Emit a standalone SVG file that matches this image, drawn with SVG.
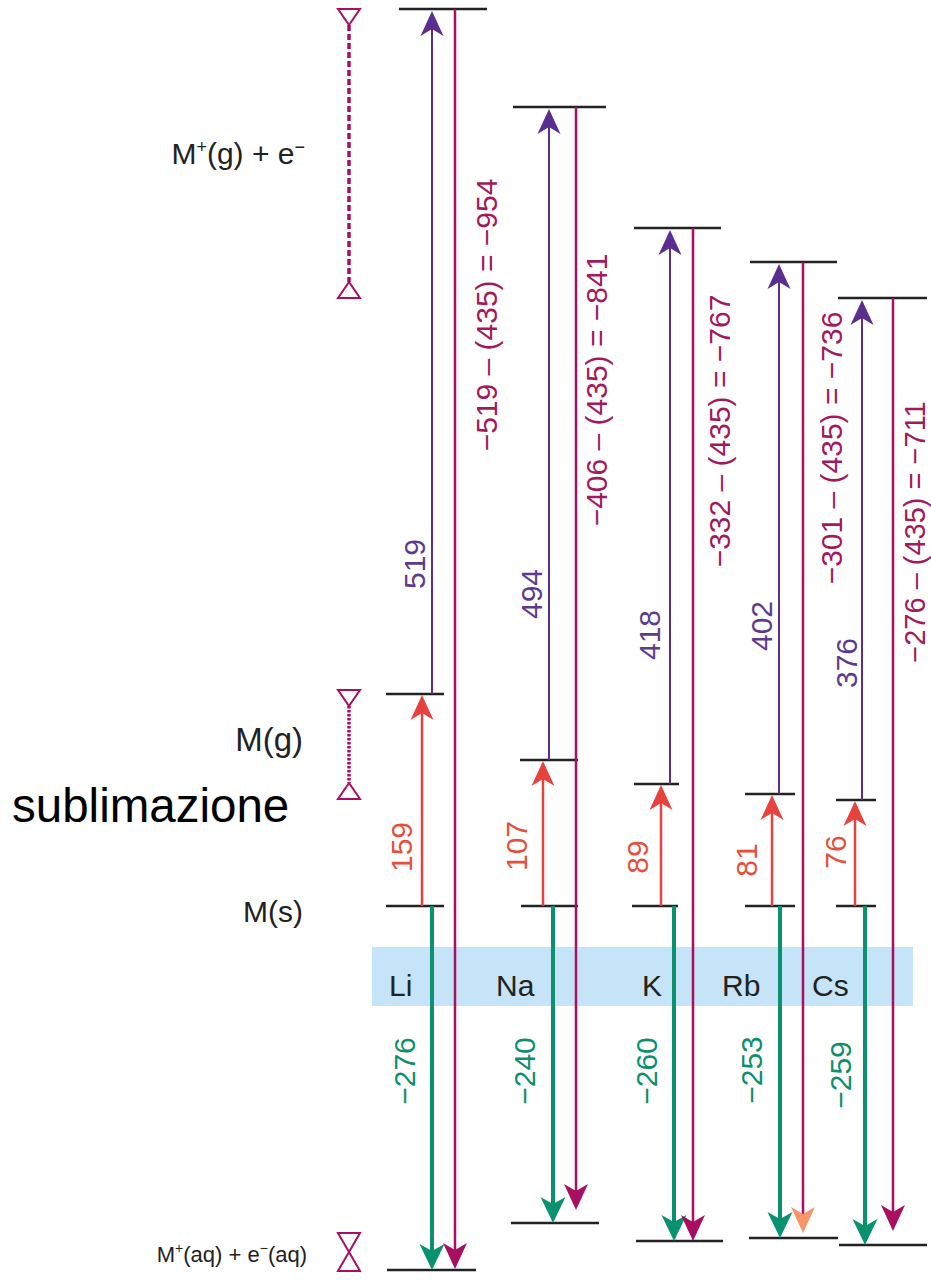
<svg xmlns="http://www.w3.org/2000/svg" width="931" height="1284" viewBox="0 0 931 1284">
<defs>
<style>
text{font-family:"Liberation Sans",Arial,sans-serif;}
.lvl{stroke:#222;stroke-width:2.5;fill:none;}
.pur{stroke:#5b2d8e;stroke-width:2;fill:none;}
.mag{stroke:#a80f62;stroke-width:2.5;fill:none;}
.red{stroke:#e8423f;stroke-width:2.5;fill:none;}
.grn{stroke:#0a9170;stroke-width:4;fill:none;}
.tri{stroke:#a80f62;stroke-width:2;fill:#fff;}
.t-pur{fill:#5e3a8f;font-size:30px;}
.t-mag{fill:#a3195b;font-size:30px;}
.t-red{fill:#e4503c;font-size:30px;}
.t-grn{fill:#0d8f6c;font-size:30px;}
.t-blk{fill:#222;font-size:30px;}
</style>
<marker id="ah-pur" markerUnits="userSpaceOnUse" markerWidth="26" markerHeight="26" viewBox="0 -13 26 26" refX="20" refY="0" orient="auto"><path d="M25,0 L0,-11.5 L7,0 L0,11.5 Z" fill="#5b2d8e"/></marker>
<marker id="ah-red" markerUnits="userSpaceOnUse" markerWidth="26" markerHeight="26" viewBox="0 -13 26 26" refX="20" refY="0" orient="auto"><path d="M25,0 L0,-11.5 L7,0 L0,11.5 Z" fill="#e8423f"/></marker>
<marker id="ah-grn" markerUnits="userSpaceOnUse" markerWidth="28" markerHeight="28" viewBox="0 -14 28 28" refX="20" refY="0" orient="auto"><path d="M26,0 L0,-12.5 L7,0 L0,12.5 Z" fill="#0a9170"/></marker>
<marker id="ah-mag" markerUnits="userSpaceOnUse" markerWidth="28" markerHeight="28" viewBox="0 -14 28 28" refX="20" refY="0" orient="auto"><path d="M26,0 L0,-12 L7,0 L0,12 Z" fill="#a80f62"/></marker>
<marker id="ah-org" markerUnits="userSpaceOnUse" markerWidth="28" markerHeight="28" viewBox="0 -14 28 28" refX="20" refY="0" orient="auto"><path d="M26,0 L0,-12 L7,0 L0,12 Z" fill="#f4956a"/></marker>
</defs>

<rect id="band" x="372" y="947" width="541" height="59" fill="#c6e4f7"/>

<g id="scale-markers">
<line x1="349" y1="25" x2="349" y2="282" stroke="#a80f62" stroke-width="3.5" stroke-dasharray="6,3"/>
<path class="tri" d="M338,9 L360,9 L349,25 Z"/>
<path class="tri" d="M338,298 L360,298 L349,282 Z"/>
<line x1="349" y1="706" x2="349" y2="783" stroke="#a80f62" stroke-width="3.5" stroke-dasharray="2.5,1.5"/>
<path class="tri" d="M338,690 L360,690 L349,706 Z"/>
<path class="tri" d="M338,799 L360,799 L349,783 Z"/>
<path class="tri" d="M338,1233 L360,1233 L349,1252 Z"/>
<path class="tri" d="M338,1271 L360,1271 L349,1252 Z"/>
</g>

<g id="labels-left">
<text class="t-blk" x="305" y="164" text-anchor="end">M<tspan font-size="18" dy="-11">+</tspan><tspan dy="11">(g) + e</tspan><tspan font-size="18" dy="-11">−</tspan></text>
<text class="t-blk" x="303" y="751" text-anchor="end" style="font-size:33px">M(g)</text>
<text fill="#000" font-size="47.5" x="12" y="822">sublimazione</text>
<text class="t-blk" x="303" y="922" text-anchor="end">M(s)</text>
<text class="t-blk" x="307" y="1262" text-anchor="end" style="font-size:22px">M<tspan font-size="14" dy="-9">+</tspan><tspan dy="9">(aq) + e</tspan><tspan font-size="14" dy="-9">−</tspan><tspan dy="9">(aq)</tspan></text>
</g>

<g id="Li">
<line class="lvl" x1="399" y1="9" x2="487" y2="9"/>
<line class="lvl" x1="386" y1="694" x2="444" y2="694"/>
<line class="lvl" x1="386" y1="906" x2="444" y2="906"/>
<line class="lvl" x1="387" y1="1270" x2="476" y2="1270"/>
<text class="t-blk" x="389" y="996">Li</text>
</g>
<g id="Na">
<line class="lvl" x1="513" y1="107" x2="606" y2="107"/>
<line class="lvl" x1="520" y1="760" x2="578" y2="760"/>
<line class="lvl" x1="521" y1="906" x2="578" y2="906"/>
<line class="lvl" x1="511" y1="1223" x2="599" y2="1223"/>
<text class="t-blk" x="496" y="996">Na</text>
</g>
<g id="K">
<line class="lvl" x1="634" y1="228" x2="721" y2="228"/>
<line class="lvl" x1="634" y1="784" x2="679" y2="784"/>
<line class="lvl" x1="632" y1="906" x2="678" y2="906"/>
<line class="lvl" x1="636" y1="1241" x2="723" y2="1241"/>
<text class="t-blk" x="642" y="996">K</text>
</g>
<g id="Rb">
<line class="lvl" x1="750" y1="262" x2="837" y2="262"/>
<line class="lvl" x1="745" y1="794" x2="795" y2="794"/>
<line class="lvl" x1="745" y1="906" x2="795" y2="906"/>
<line class="lvl" x1="749" y1="1238" x2="838" y2="1238"/>
<text class="t-blk" x="722" y="996">Rb</text>
</g>
<g id="Cs">
<line class="lvl" x1="838" y1="298" x2="927" y2="298"/>
<line class="lvl" x1="836" y1="800" x2="876" y2="800"/>
<line class="lvl" x1="836" y1="906" x2="876" y2="906"/>
<line class="lvl" x1="839" y1="1245" x2="927" y2="1245"/>
<text class="t-blk" x="812" y="996">Cs</text>
</g>

<g id="connectors">
<line class="pur" x1="432" y1="694" x2="432" y2="16" marker-end="url(#ah-pur)"/>
<line class="red" x1="422" y1="906" x2="422" y2="700" marker-end="url(#ah-red)"/>
<line class="grn" x1="432" y1="906" x2="432" y2="1264" marker-end="url(#ah-grn)"/>
<line class="mag" x1="455" y1="9" x2="455" y2="1263" marker-end="url(#ah-mag)"/>
<line class="pur" x1="549" y1="760" x2="549" y2="114" marker-end="url(#ah-pur)"/>
<line class="red" x1="543" y1="906" x2="543" y2="766" marker-end="url(#ah-red)"/>
<line class="grn" x1="553" y1="906" x2="553" y2="1217" marker-end="url(#ah-grn)"/>
<line class="mag" x1="576" y1="107" x2="576" y2="1204" marker-end="url(#ah-mag)"/>
<line class="pur" x1="670" y1="784" x2="670" y2="235" marker-end="url(#ah-pur)"/>
<line class="red" x1="661" y1="906" x2="661" y2="790" marker-end="url(#ah-red)"/>
<line class="grn" x1="674" y1="906" x2="674" y2="1235" marker-end="url(#ah-grn)"/>
<line class="mag" x1="693" y1="228" x2="693" y2="1235" marker-end="url(#ah-mag)"/>
<line class="pur" x1="779" y1="794" x2="779" y2="269" marker-end="url(#ah-pur)"/>
<line class="red" x1="772" y1="906" x2="772" y2="800" marker-end="url(#ah-red)"/>
<line class="grn" x1="780" y1="906" x2="780" y2="1232" marker-end="url(#ah-grn)"/>
<line class="mag" x1="803" y1="262" x2="803" y2="1227" marker-end="url(#ah-org)"/>
<line class="pur" x1="862" y1="800" x2="862" y2="305" marker-end="url(#ah-pur)"/>
<line class="red" x1="855" y1="906" x2="855" y2="806" marker-end="url(#ah-red)"/>
<line class="grn" x1="865" y1="906" x2="865" y2="1239" marker-end="url(#ah-grn)"/>
<line class="mag" x1="893" y1="298" x2="893" y2="1225" marker-end="url(#ah-mag)"/>
</g>

<g id="connector-labels" text-anchor="middle">
<text class="t-pur" transform="translate(425,564) rotate(-90)">519</text>
<text class="t-pur" transform="translate(542,594) rotate(-90)">494</text>
<text class="t-pur" transform="translate(660,635) rotate(-90)">418</text>
<text class="t-pur" transform="translate(772,626) rotate(-90)">402</text>
<text class="t-pur" transform="translate(857,663) rotate(-90)">376</text>
<text class="t-mag" transform="translate(497,315) rotate(-90)">−519 – (435) = −954</text>
<text class="t-mag" transform="translate(607,390) rotate(-90)">−406 – (435) = −841</text>
<text class="t-mag" transform="translate(730,431) rotate(-90)">−332 – (435) = −767</text>
<text class="t-mag" transform="translate(842,448) rotate(-90)">−301 – (435) = −736</text>
<text class="t-mag" transform="translate(925,532) rotate(-90)" style="font-size:29px">−276 – (435) = −711</text>
<text class="t-red" transform="translate(412,847) rotate(-90)">159</text>
<text class="t-red" transform="translate(527,846) rotate(-90)">107</text>
<text class="t-red" transform="translate(648,857) rotate(-90)">89</text>
<text class="t-red" transform="translate(757,860) rotate(-90)">81</text>
<text class="t-red" transform="translate(846,852) rotate(-90)">76</text>
<text class="t-grn" transform="translate(415,1071) rotate(-90)">−276</text>
<text class="t-grn" transform="translate(535,1071) rotate(-90)">−240</text>
<text class="t-grn" transform="translate(657,1071) rotate(-90)">−260</text>
<text class="t-grn" transform="translate(762,1070) rotate(-90)">−253</text>
<text class="t-grn" transform="translate(851,1075) rotate(-90)">−259</text>
</g>
</svg>
